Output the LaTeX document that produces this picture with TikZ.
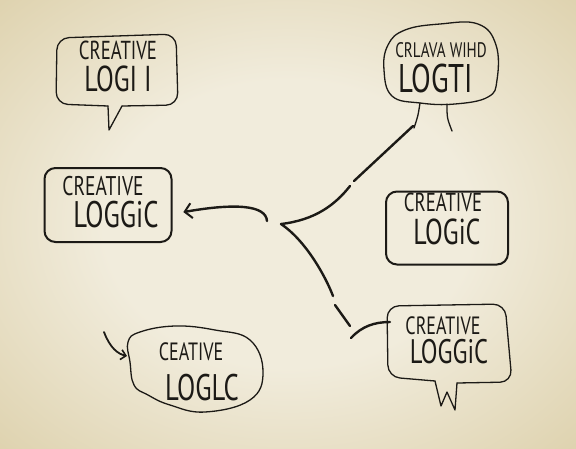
\documentclass[tikz,border=0pt]{standalone}
\usepackage{fontspec}
\newfontfamily\hand[FakeStretch=0.72]{PT Sans}
\usetikzlibrary{arrows.meta}
\definecolor{paper}{HTML}{F1ECDC}
\definecolor{papermid}{HTML}{DED2AE}
\definecolor{paperedge}{HTML}{C4B084}
\definecolor{ink}{HTML}{1C1A16}
\pgfdeclareradialshading{vignette}{\pgfpoint{0bp}{0bp}}{%
  color(0bp)=(paper); color(16bp)=(paper); color(36bp)=(papermid);
  color(50bp)=(paperedge)}

\begin{document}
\begin{tikzpicture}[x=1pt, y=-1pt,
    frame/.style={draw=ink, line width=2pt, rounded corners=11pt, inner sep=0pt},
    bubble/.style={draw=ink, line width=1.3pt, line cap=round, line join=round},
    link/.style={draw=ink, line width=2.4pt, line cap=round},
    txt/.style={font=\hand\fontsize{#1}{#1}\selectfont, text=ink, inner sep=0pt,
                text height={0.7*#1pt}, text depth=0pt},
    >={Straight Barb[length=7pt, width=15pt, line width=2pt]}]
  \useasboundingbox (0,0) rectangle (576,448);
  \shade[shading=vignette] (0,0) rectangle (576,448);

  % top left bubble
  \draw[bubble, rounded corners=12pt] (108,106) -- (56,104) -- (57,38) -- (176,34)
    -- (178,105) -- (122,106);
  \draw[bubble] (108,106) -- (109,130) -- (122,106);
  \node[txt=26] (tl-a) at (118,50) {CREATIVE};
  \node[txt=36] (tl-b) at (118,79) {LOGI I};

  % top right cloud
  \draw[bubble] plot[smooth cycle, tension=0.7] coordinates {(388,45) (405,30)
    (440,24) (478,24) (496,45) (497,80) (488,97) (455,104) (420,103) (392,96) (384,70)};
  \draw[bubble] (420,103) .. controls (418,116) .. (414,128);
  \draw[bubble] (447,104) .. controls (447,118) .. (452,131);
  \node[txt=21] (tr-a) at (441,50) {CRLAVA WIHD};
  \node[txt=40] (tr-b) at (436,78) {LOGTI};

  % middle boxes
  \node[frame, minimum width=127pt, minimum height=74pt] (ml) at (108,205) {};
  \node[txt=27] (ml-a) at (103,186) {CREATIVE};
  \node[txt=37] (ml-b) at (116,215) {LOGGiC};
  \node[frame, minimum width=122pt, minimum height=73pt] (mr) at (447,228) {};
  \node[txt=26] (mr-a) at (443,202) {CREATIVE};
  \node[txt=36] (mr-b) at (447,232) {LOGiC};

  % bottom left cloud
  \draw[bubble] plot[smooth cycle, tension=0.7] coordinates {(140,332) (175,326)
    (215,330) (250,340) (263,372) (250,400) (205,412) (170,405) (148,395) (134,385)
    (130,362) (128,342)};
  \node[txt=25] (bl-a) at (191,352) {CEATIVE};
  \node[txt=37] (bl-b) at (202,388) {LOGLC};

  % bottom right bubble
  \draw[bubble, rounded corners=12pt] (435,381) -- (388,377) -- (387,306) -- (505,304)
    -- (512,382) -- (457,383);
  \draw[bubble] (435,381) -- (441,406) -- (447,392) -- (455,410) -- (457,383);
  \node[txt=25] (br-a) at (443,326) {CREATIVE};
  \node[txt=34] (br-b) at (449,352) {LOGGiC};

  % connectors
  \coordinate (hub) at (281,224);
  \coordinate (hub-w) at (267,221);
  \coordinate (up-a) at (350,186);
  \coordinate (up-b) at (354,181);
  \coordinate (tr-tip) at (413,126);
  \coordinate (dn-a) at (333,296);
  \coordinate (dn-b) at (335,305);
  \coordinate (dn-c) at (350,326);
  \coordinate (dn-d) at (351,338);
  \coordinate (br-w) at (390,322);
  \coordinate (bl-from) at (104,332);
  \coordinate (bl-w) at (127,356);

  \draw[link, ->, shorten >=11pt] (hub-w) .. controls (266,205) and (235,203)
    .. ([yshift=-9pt]ml.east);
  \draw[link] (hub) .. controls (315,220) and (335,205) .. (up-a);
  \draw[link] (up-b) -- (tr-tip);
  \draw[link] (hub) .. controls (305,240) and (325,275) .. (dn-a);
  \draw[link] (dn-b) -- (dn-c);
  \draw[link] (dn-d) .. controls (362,326) and (375,322) .. (br-w);
  \draw[link, line width=1.8pt, -{Straight Barb[length=5pt, width=10pt, line width=1.6pt]}]
    (bl-from) .. controls (110,348) and (118,354) .. (bl-w);
\end{tikzpicture}
\end{document}
